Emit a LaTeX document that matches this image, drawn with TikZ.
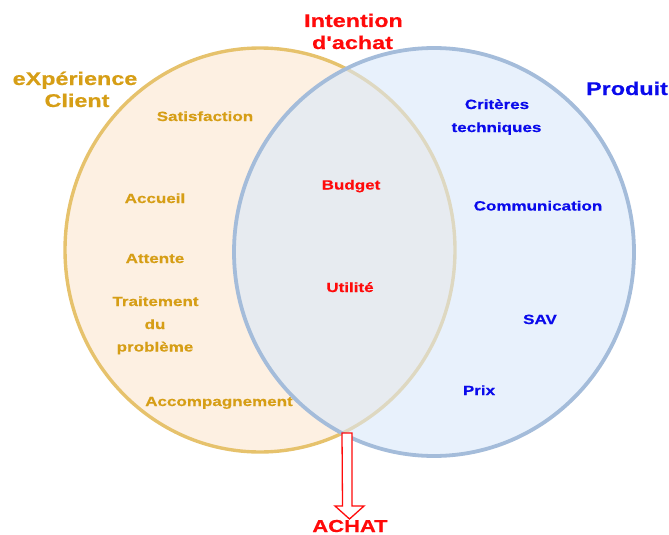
\documentclass[tikz,border=0pt]{standalone}
\usepackage{fontspec}
\usetikzlibrary{calc}
\newfontfamily\diagfont[FakeStretch=1.27, BoldFeatures={FakeBold=0.5}]{Liberation Sans}
\definecolor{goldline}{RGB}{230,194,108}
\definecolor{goldfill}{RGB}{253,240,226}
\definecolor{goldtext}{RGB}{214,158,22}
\definecolor{blueline}{RGB}{164,188,218}
\definecolor{bluefill}{RGB}{217,232,250}
\definecolor{bluetext}{RGB}{10,10,235}
\definecolor{redtext}{RGB}{255,10,10}
\tikzset{
  lbl/.style={anchor=base, inner sep=0pt, font=\diagfont\bfseries\fontsize{13.4}{16}\selectfont},
  ttl/.style={anchor=base, inner sep=0pt, font=\diagfont\bfseries\fontsize{18.4}{22}\selectfont},
  clientlbl/.style={lbl, text=goldtext},
  produitlbl/.style={lbl, text=bluetext},
  achatlbl/.style={lbl, text=redtext},
}
\begin{document}
\begin{tikzpicture}[x=1pt, y=-1pt]
\useasboundingbox (0,0) rectangle (669,535);

% the two sets
\draw[goldline, line width=3.4pt, fill=goldfill] (260,250) ellipse [x radius=195, y radius=202];
\draw[blueline, line width=3.8pt, fill=bluefill, fill opacity=0.6, draw opacity=1] (434,252) ellipse [x radius=200, y radius=204];

% titles
\node[ttl, text=redtext] (intention) at (353.5,27) {Intention};
\node[ttl, text=redtext] (dachat) at (352.5,49) {d'achat};
\node[ttl, text=goldtext] (experience) at (75,85) {eXpérience};
\node[ttl, text=goldtext] (client) at (77,107) {Client};
\node[ttl, text=bluetext] (produit) at (627,95) {Produit};

% customer experience items
\node[clientlbl] (satisfaction) at (205,121) {Satisfaction};
\node[clientlbl] (accueil) at (155,203) {Accueil};
\node[clientlbl] (attente) at (155,263) {Attente};
\node[clientlbl] (traitement) at (155.5,306) {Traitement};
\node[clientlbl] (du) at (155,329) {du};
\node[clientlbl] (probleme) at (155,351.5) {problème};
\node[clientlbl] (accompagnement) at (219,406) {Accompagnement};

% shared items
\node[achatlbl] (budget) at (351,189.5) {Budget};
\node[achatlbl] (utilite) at (350,292) {Utilité};

% product items
\node[produitlbl] (criteres) at (497,109) {Critères};
\node[produitlbl] (techniques) at (496.5,132) {techniques};
\node[produitlbl] (communication) at (538,210.5) {Communication};
\node[produitlbl] (sav) at (540,324) {SAV};
\node[produitlbl] (prix) at (479,395) {Prix};

% outcome
\node[ttl, text=redtext, font=\diagfont\bfseries\fontsize{17.3}{20}\selectfont] (achat) at (350,532) {ACHAT};

% hollow arrow from the lower crossing of the sets down to the outcome
\coordinate (meet) at (347,433);
\coordinate (tip) at (349.5,519);
\draw[redtext, line width=1.3pt, fill=white, line join=miter]
  ($(meet)+(-5,0)$) -- ($(meet)+(5,0)$) -- ($(tip)+(2.5,-13)$) -- ($(tip)+(14.5,-13)$)
  -- (tip) -- ($(tip)+(-14.5,-13)$) -- ($(tip)+(-7,-13)$) -- cycle;
\end{tikzpicture}
\end{document}
